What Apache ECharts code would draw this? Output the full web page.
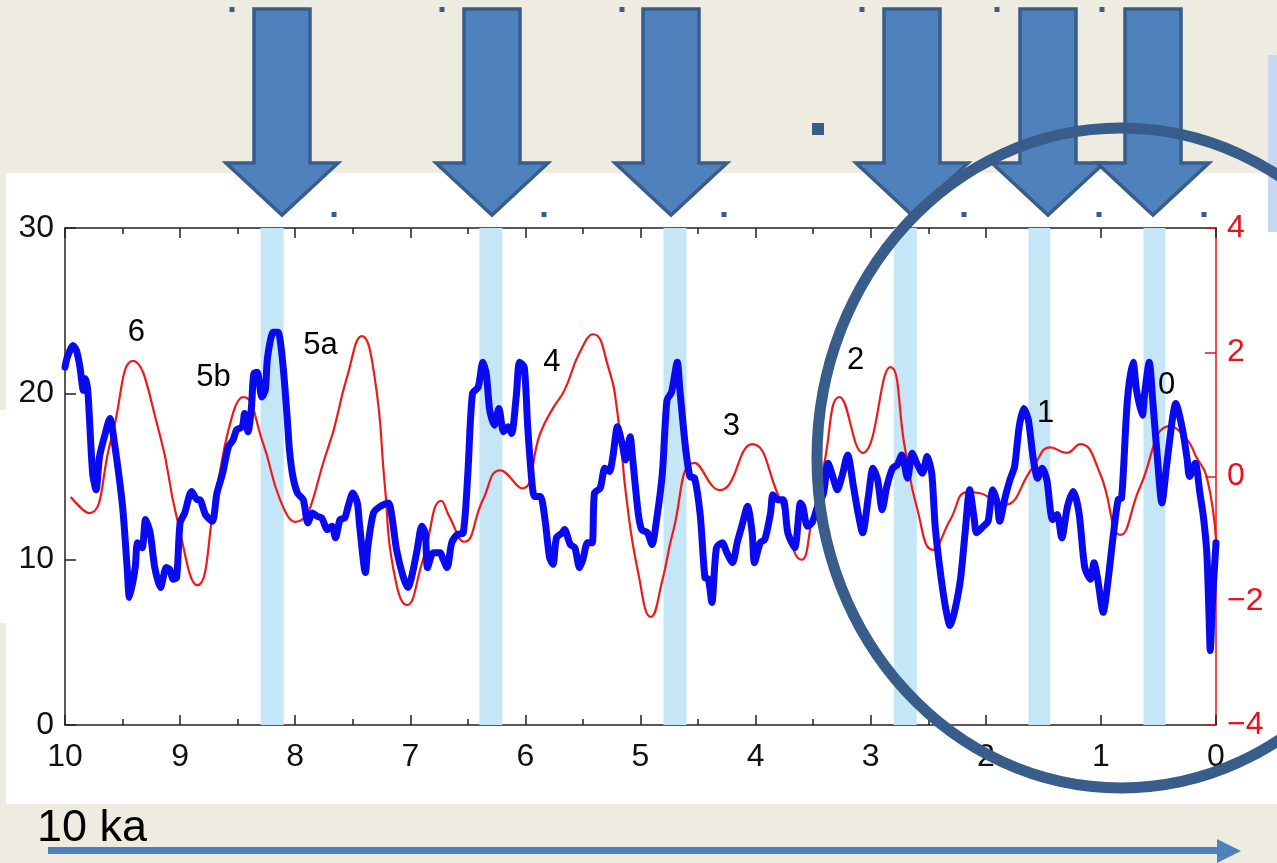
<!DOCTYPE html>
<html>
<head>
<meta charset="utf-8">
<script src="https://cdn.jsdelivr.net/npm/echarts@6/dist/echarts.min.js"></script>
<style>
html,body{margin:0;padding:0;background:#EEECE1;}
#chart{width:1277px;height:863px;}
</style>
</head>
<body>
<div id="chart"></div>
<script>
// ---- data (age in ka) ----
const blueAge = [10.00,9.98,9.93,9.90,9.87,9.84,9.82,9.80,9.76,9.73,9.70,9.65,9.61,9.57,9.50,9.46,9.44,9.39,9.37,9.33,9.30,9.26,9.22,9.17,9.12,9.09,9.06,9.03,9.00,8.96,8.90,8.85,8.83,8.78,8.72,8.68,8.63,8.58,8.54,8.51,8.46,8.44,8.41,8.38,8.36,8.33,8.29,8.26,8.24,8.19,8.15,8.11,8.07,8.05,8.02,7.98,7.93,7.89,7.85,7.81,7.77,7.72,7.68,7.65,7.61,7.57,7.54,7.50,7.46,7.44,7.39,7.37,7.32,7.26,7.19,7.16,7.12,7.06,7.02,6.98,6.94,6.90,6.87,6.85,6.80,6.74,6.72,6.68,6.64,6.59,6.54,6.50,6.46,6.41,6.37,6.34,6.31,6.27,6.23,6.19,6.15,6.12,6.08,6.05,6.01,5.98,5.94,5.92,5.87,5.83,5.79,5.76,5.73,5.68,5.66,5.61,5.57,5.53,5.50,5.46,5.42,5.40,5.35,5.31,5.27,5.24,5.20,5.16,5.13,5.09,5.07,5.02,4.99,4.94,4.90,4.86,4.81,4.77,4.73,4.68,4.66,4.61,4.57,4.53,4.48,4.44,4.41,4.38,4.34,4.29,4.25,4.20,4.16,4.12,4.07,4.03,4.01,3.96,3.92,3.87,3.85,3.81,3.76,3.72,3.66,3.61,3.59,3.55,3.51,3.47,3.41,3.37,3.33,3.29,3.25,3.20,3.15,3.11,3.07,3.02,2.98,2.94,2.90,2.86,2.81,2.77,2.73,2.68,2.64,2.60,2.55,2.51,2.47,2.44,2.40,2.35,2.31,2.27,2.22,2.18,2.14,2.10,2.08,2.02,1.98,1.94,1.90,1.88,1.83,1.79,1.75,1.71,1.67,1.63,1.59,1.55,1.51,1.47,1.42,1.38,1.34,1.29,1.24,1.19,1.14,1.09,1.06,1.03,0.98,0.94,0.89,0.85,0.82,0.77,0.72,0.69,0.64,0.62,0.58,0.55,0.51,0.47,0.43,0.38,0.35,0.29,0.25,0.23,0.18,0.14,0.11,0.08,0.06,0.05,0.03,0.00];
const blueVal = [21.6,22.2,22.9,22.6,21.6,20.2,20.9,20.0,15.2,14.2,16.2,17.6,18.5,17.0,13.2,9.5,7.7,9.5,11.0,10.7,12.4,11.6,9.5,8.3,9.5,9.4,8.8,8.9,12.2,12.8,14.1,13.6,13.6,12.7,12.3,14.0,15.2,16.8,17.2,17.8,18.0,18.8,17.7,19.2,21.2,21.3,19.8,20.2,22.2,23.7,23.7,22.0,18.6,16.6,15.0,14.0,13.6,12.2,12.8,12.6,12.5,11.8,12.0,11.3,12.4,12.5,13.2,14.0,13.4,12.0,9.2,10.7,12.8,13.2,13.4,12.6,10.6,8.9,8.3,9.2,10.6,12.0,11.6,9.5,10.4,10.4,10.1,9.5,11.0,11.5,11.6,15.2,20.0,20.4,21.9,21.2,19.0,18.1,19.1,17.7,18.0,17.6,19.8,21.9,21.6,18.0,14.4,13.8,13.8,12.4,10.1,9.7,11.3,11.6,11.8,10.9,10.7,9.5,10.0,11.0,11.0,14.0,14.3,15.5,15.3,16.2,18.0,17.0,16.0,17.4,16.2,12.8,11.8,11.6,10.9,12.4,15.2,19.6,20.1,21.9,20.4,16.8,15.0,14.9,12.6,8.9,8.8,7.4,10.7,11.0,10.4,9.8,11.0,12.0,13.2,11.6,9.8,11.0,11.2,12.8,13.9,13.6,13.6,11.6,10.7,13.4,13.2,12.0,12.2,13.0,14.0,15.8,15.0,14.2,15.0,16.3,14.4,12.8,11.6,13.8,15.5,14.8,13.0,14.4,15.5,15.7,16.3,14.9,16.4,15.8,15.2,16.2,15.2,12.0,9.5,7.1,6.0,6.9,8.8,11.6,14.2,12.4,11.6,12.0,12.3,14.2,13.4,12.3,13.8,14.8,15.6,18.0,19.1,18.4,16.2,14.9,15.5,14.8,12.4,12.7,11.3,13.2,14.1,12.8,9.5,8.8,9.8,8.9,6.8,8.6,11.6,13.6,13.7,19.6,21.9,20.2,18.7,20.0,21.9,19.6,16.2,13.4,15.6,18.4,19.4,17.8,16.0,15.0,15.8,14.0,12.6,10.4,6.5,4.5,7.5,11.0];

const redAge = [9.95,9.79,9.60,9.41,9.18,9.03,8.85,8.68,8.54,8.45,8.28,8.13,8.00,7.72,7.55,7.42,7.31,7.22,7.15,7.03,6.89,6.73,6.66,6.53,6.37,6.22,6.03,5.87,5.76,5.66,5.53,5.41,5.28,5.20,5.12,5.02,4.91,4.81,4.72,4.53,4.31,4.03,3.81,3.60,3.51,3.41,3.27,3.07,2.83,2.70,2.60,2.46,2.31,2.16,2.05,1.85,1.59,1.44,1.30,1.18,1.01,0.83,0.66,0.40,0.25,0.17,0.08,0.00];
const redVal = [-0.33,-0.59,0.59,1.86,0.70,-0.65,-1.75,-0.17,1.02,1.28,0.54,-0.38,-0.73,0.43,1.60,2.26,1.60,-0.17,-1.46,-2.07,-1.34,-0.39,-0.65,-1.05,-0.38,0.10,-0.19,0.70,1.10,1.39,1.99,2.29,1.76,1.02,-0.38,-1.55,-2.26,-1.67,-0.91,0.22,-0.22,0.52,-0.27,-1.34,-0.70,0.15,1.28,0.38,1.76,0.43,-0.49,-1.18,-0.70,-0.25,-0.27,-0.46,0.15,0.47,0.38,0.52,0.06,-0.94,-0.17,0.81,0.59,0.31,-0.01,-1.02];

// shaded intervals (ka)
const bands = [[8.30,8.10],[6.40,6.20],[4.80,4.60],[2.80,2.60],[1.63,1.44],[0.63,0.44]];

// event labels: text, age (ka), left-axis value
const eventText = ['6','5b','5a','4','3','2','1','0'];
const eventAge  = [9.38,8.71,7.78,5.77,4.21,3.13,1.48,0.43];
const eventVal  = [23.7,21.0,22.9,21.9,18.0,22.0,18.8,20.5];

const xTicksMax = 10, leftMax = 30, rightMin = -4, rightMax = 4;

// ---- chart ----
const chart = echarts.init(document.getElementById('chart'), null, {renderer:'canvas'});
const FONT = 'Liberation Sans, Arial, Helvetica, sans-serif';
const dark = '#385D8A', fillBlue = '#4F81BD';

function downArrow(cx){
  const t = 9, hb = 163, tip = 215, sw = 28, hw = 56;
  return {
    type:'polygon', z:100,
    shape:{points:[[cx-sw,t],[cx+sw,t],[cx+sw,hb],[cx+hw,hb],[cx,tip],[cx-hw,hb],[cx-sw,hb]]},
    style:{fill:fillBlue, stroke:dark, lineWidth:3.5, lineJoin:'miter'}
  };
}
function sq(x,y,s){ return {type:'rect', z:100, shape:{x:x-s/2,y:y-s/2,width:s,height:s}, style:{fill:dark}}; }

const graphics = [
  {type:'rect', z:-100, shape:{x:6,y:173,width:1271,height:631}, style:{fill:'#ffffff'}},
  {type:'rect', z:-100, shape:{x:0,y:410,width:7,height:213}, style:{fill:'#ffffff'}},
  {type:'rect', z:-99, shape:{x:1268,y:55,width:9,height:177}, style:{fill:'#C6D9F1'}},
  downArrow(282), downArrow(492), downArrow(671), downArrow(912), downArrow(1048), downArrow(1153),
  sq(232,9.5,5), sq(442,9.5,5), sq(622,9.5,5), sq(862,9.5,5), sq(997,9.5,5), sq(1102,9.5,5),
  sq(334,214.5,5), sq(544,214.5,5), sq(724,214.5,5), sq(964,214.5,5), sq(1099,214.5,5), sq(1204,214.5,5),
  sq(818,129,12),
  {type:'ellipse', z:110, shape:{cx:1121, cy:458, rx:304, ry:330}, style:{fill:'none', stroke:dark, lineWidth:11}},
  {type:'text', z:100, style:{text:'10 ka', x:37, y:829, font:'45px '+FONT, fill:'#000', verticalAlign:'middle', align:'left'}},
  {type:'line', z:100, shape:{x1:48,y1:850.5,x2:1220,y2:850.5}, style:{stroke:fillBlue, lineWidth:7}},
  {type:'polygon', z:100, shape:{points:[[1217,839],[1241,851],[1217,863]]}, style:{fill:fillBlue}}
];

const axisCommonX = {
  type:'value', min:0, max:xTicksMax, interval:1, inverse:true,
  axisLine:{show:true, onZero:false, lineStyle:{color:'#222', width:1.5}},
  axisTick:{show:true, inside:true, length:10, lineStyle:{color:'#222', width:1.5}},
  minorTick:{show:true, splitNumber:2, length:6, lineStyle:{color:'#222', width:1.5}},
  splitLine:{show:false}, minorSplitLine:{show:false}
};

const option = {
  backgroundColor:'#EEECE1',
  animation:false,
  grid:{left:65, right:61, top:228, bottom:138, containLabel:false},
  graphic:graphics,
  xAxis:[
    Object.assign({}, axisCommonX, {position:'bottom',
      axisLabel:{show:true, fontSize:32, color:'#111', margin:16, fontFamily:FONT}}),
    Object.assign({}, axisCommonX, {position:'top', axisLabel:{show:false}})
  ],
  yAxis:[
    {type:'value', min:0, max:leftMax, interval:10, position:'left',
     axisLine:{show:true, onZero:false, lineStyle:{color:'#222', width:1.5}},
     axisTick:{show:true, inside:true, length:11, lineStyle:{color:'#222', width:1.5}},
     splitLine:{show:false},
     axisLabel:{fontSize:32, color:'#111', margin:11, fontFamily:FONT}},
    {type:'value', min:rightMin, max:rightMax, interval:2, position:'right',
     axisLine:{show:true, onZero:false, lineStyle:{color:'#e8121b', width:1.5}},
     axisTick:{show:true, inside:true, length:11, lineStyle:{color:'#e8121b', width:1.5}},
     splitLine:{show:false},
     axisLabel:{fontSize:32, color:'#e8121b', margin:11, fontFamily:FONT,
       formatter:v => String(v).replace('-', '\u2212')}}
  ],
  series:[
    {type:'line', xAxisIndex:0, yAxisIndex:0, data:[[10,0],[0,0]], showSymbol:false, silent:true,
     lineStyle:{opacity:0, width:0}, z:1,
     markArea:{silent:true, itemStyle:{color:'#c4e6f7', opacity:1},
       data:bands.map(b => [{xAxis:b[0]},{xAxis:b[1]}])}},
    {type:'line', name:'red', xAxisIndex:0, yAxisIndex:1, showSymbol:false, smooth:0.5, z:3,
     data:redAge.map((a,i)=>[a, redVal[i]]),
     lineStyle:{color:'#ee1a1a', width:2.2}},
    {type:'line', name:'blue', xAxisIndex:0, yAxisIndex:0, showSymbol:false, smooth:0.25, z:4,
     data:blueAge.map((a,i)=>[a, blueVal[i]]),
     lineStyle:{color:'#0a0af0', width:7, cap:'round', join:'round'}},
    {type:'scatter', xAxisIndex:0, yAxisIndex:0, symbol:'circle', symbolSize:0, z:6, silent:true,
     itemStyle:{color:'#000', opacity:1},
     data:eventText.map((t,i)=>({name:t, value:[eventAge[i], eventVal[i]]})),
     label:{show:true, position:'inside', formatter:'{b}', fontSize:31, color:'#000',
       textBorderWidth:0, opacity:1, fontFamily:FONT}}
  ]
};
chart.setOption(option);
</script>
</body>
</html>
